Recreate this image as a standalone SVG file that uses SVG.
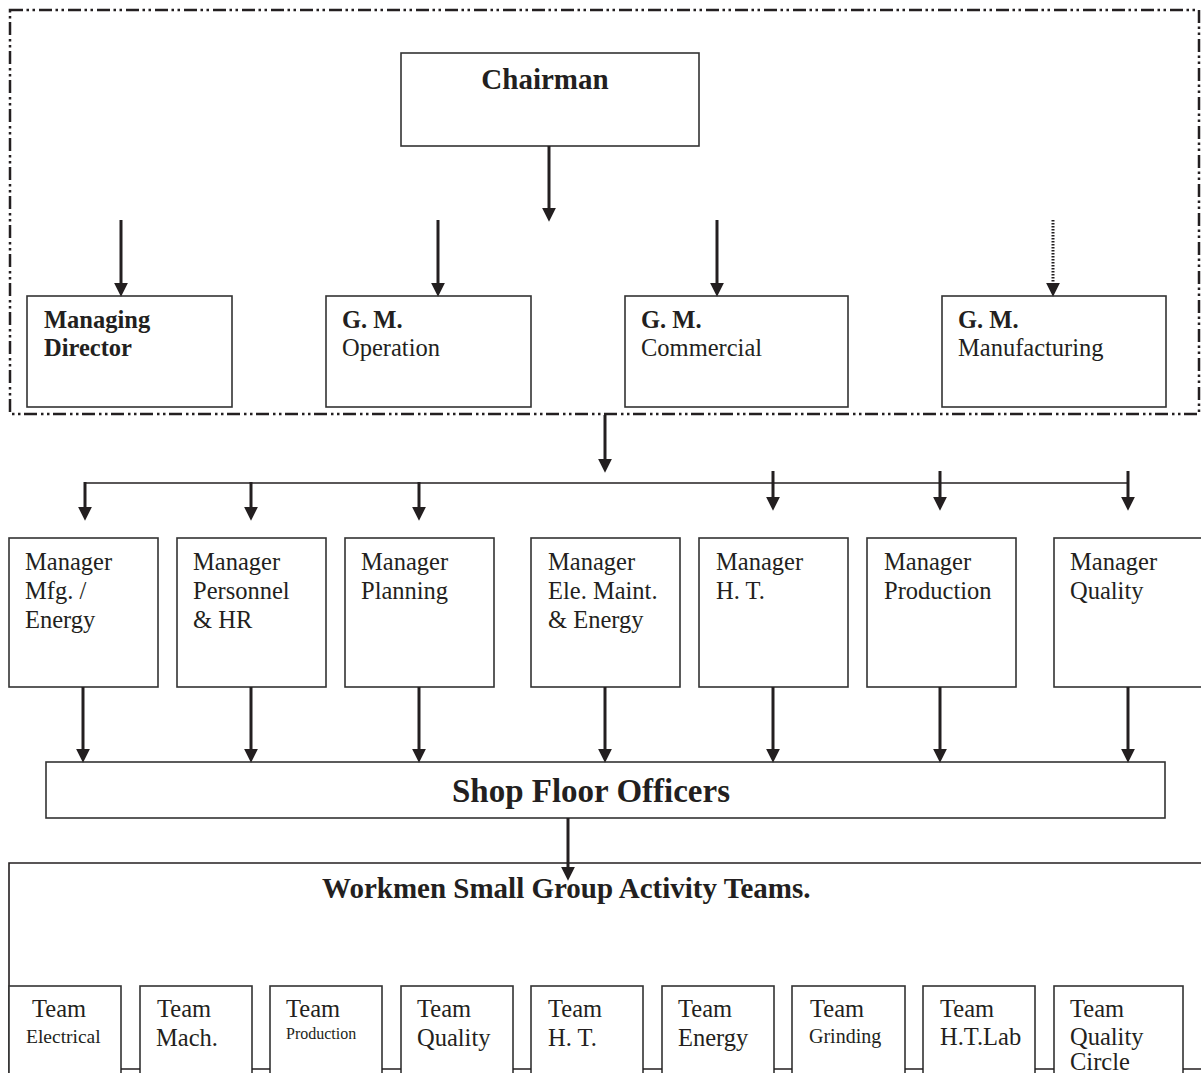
<svg xmlns="http://www.w3.org/2000/svg" width="1201" height="1073" viewBox="0 0 1201 1073">
<style>
.box{fill:#fff;stroke:#333;stroke-width:1.6}
.t{font-family:"Liberation Serif","Times New Roman",serif;fill:#231f20;font-size:24.5px}
.b{font-weight:bold}
.arr{stroke:#231f20;stroke-width:3;fill:none;marker-end:url(#ah)}
.dot{stroke:#231f20;stroke-width:3;fill:none;stroke-dasharray:1.5 1.5;marker-end:url(#ah)}
.thin{stroke:#231f20;stroke-width:1.6;fill:none}
.frame{fill:none;stroke:#231f20;stroke-width:2.5;stroke-dasharray:13 3.5 2.5 3.5 2.5 4}
</style>
<defs>
<marker id="ah" markerUnits="userSpaceOnUse" markerWidth="14" markerHeight="14" viewBox="0 0 13 13" refX="3" refY="6.5" orient="auto">
<path d="M0,0 L13,6.5 L0,13 z" fill="#231f20"/>
</marker>
</defs>
<rect width="1201" height="1073" fill="#fff"/>
<rect class="frame" x="10" y="10" width="1189" height="404"/>

<g id="chairman"><rect class="box" x="401" y="53" width="298" height="93"/><text class="t b" x="545" y="89" style="font-size:29px" text-anchor="middle">Chairman</text></g>
<g id="md"><rect class="box" x="27" y="296" width="205" height="111"/><text class="t b" x="44" y="328">Managing</text><text class="t b" x="44" y="356">Director</text></g>
<g id="gm-op"><rect class="box" x="326" y="296" width="205" height="111"/><text class="t b" x="342" y="328">G. M.</text><text class="t" x="342" y="356">Operation</text></g>
<g id="gm-com"><rect class="box" x="625" y="296" width="223" height="111"/><text class="t b" x="641" y="328">G. M.</text><text class="t" x="641" y="356">Commercial</text></g>
<g id="gm-mfg"><rect class="box" x="942" y="296" width="224" height="111"/><text class="t b" x="958" y="328">G. M.</text><text class="t" x="958" y="356">Manufacturing</text></g>

<g id="mgr-mfg"><rect class="box" x="9" y="538" width="149" height="149"/><text class="t" x="25" y="570">Manager</text><text class="t" x="25" y="599">Mfg. /</text><text class="t" x="25" y="628">Energy</text></g>
<g id="mgr-hr"><rect class="box" x="177" y="538" width="149" height="149"/><text class="t" x="193" y="570">Manager</text><text class="t" x="193" y="599">Personnel</text><text class="t" x="193" y="628">&amp; HR</text></g>
<g id="mgr-plan"><rect class="box" x="345" y="538" width="149" height="149"/><text class="t" x="361" y="570">Manager</text><text class="t" x="361" y="599">Planning</text></g>
<g id="mgr-ele"><rect class="box" x="531" y="538" width="149" height="149"/><text class="t" x="548" y="570">Manager</text><text class="t" x="548" y="599">Ele. Maint.</text><text class="t" x="548" y="628">&amp; Energy</text></g>
<g id="mgr-ht"><rect class="box" x="699" y="538" width="149" height="149"/><text class="t" x="716" y="570">Manager</text><text class="t" x="716" y="599">H. T.</text></g>
<g id="mgr-prod"><rect class="box" x="867" y="538" width="149" height="149"/><text class="t" x="884" y="570">Manager</text><text class="t" x="884" y="599">Production</text></g>
<g id="mgr-qual"><rect class="box" x="1054" y="538" width="160" height="149"/><text class="t" x="1070" y="570">Manager</text><text class="t" x="1070" y="599">Quality</text></g>

<g id="shopfloor"><rect class="box" x="46" y="762" width="1119" height="56"/><text class="t b" x="591" y="802" style="font-size:33px" text-anchor="middle">Shop Floor Officers</text></g>

<g id="workmen"><path class="thin" d="M9,1073 V863 H1201"/><text class="t b" x="322" y="898" style="font-size:29px">Workmen Small Group Activity Teams.</text></g>

<g id="team-ele"><rect class="box" x="9" y="986" width="112" height="100"/><text class="t" x="32" y="1017">Team</text><text class="t" x="26" y="1043" style="font-size:19.5px">Electrical</text></g>
<g id="team-mach"><rect class="box" x="140" y="986" width="112" height="100"/><text class="t" x="157" y="1017">Team</text><text class="t" x="156" y="1046">Mach.</text></g>
<g id="team-prod"><rect class="box" x="270" y="986" width="112" height="100"/><text class="t" x="286" y="1017">Team</text><text class="t" x="286" y="1039" style="font-size:16px">Production</text></g>
<g id="team-qual"><rect class="box" x="401" y="986" width="112" height="100"/><text class="t" x="417" y="1017">Team</text><text class="t" x="417" y="1046">Quality</text></g>
<g id="team-ht"><rect class="box" x="531" y="986" width="112" height="100"/><text class="t" x="548" y="1017">Team</text><text class="t" x="548" y="1046">H. T.</text></g>
<g id="team-energy"><rect class="box" x="662" y="986" width="112" height="100"/><text class="t" x="678" y="1017">Team</text><text class="t" x="678" y="1046">Energy</text></g>
<g id="team-grind"><rect class="box" x="792" y="986" width="113" height="100"/><text class="t" x="810" y="1017">Team</text><text class="t" x="809" y="1043" style="font-size:20px">Grinding</text></g>
<g id="team-htlab"><rect class="box" x="923" y="986" width="112" height="100"/><text class="t" x="940" y="1017">Team</text><text class="t" x="940" y="1045">H.T.Lab</text></g>
<g id="team-qc"><rect class="box" x="1054" y="986" width="129" height="100"/><text class="t" x="1070" y="1017">Team</text><text class="t" x="1070" y="1045">Quality</text><text class="t" x="1070" y="1070">Circle</text></g>

<g id="connectors">
<path class="arr" d="M549,146 V211"/>
<path class="arr" d="M121,220 V286"/>
<path class="arr" d="M438,220 V286"/>
<path class="arr" d="M717,220 V286"/>
<path class="dot" d="M1053,220 V286"/>
<path class="arr" d="M605,415 V462"/>
<path class="thin" d="M85,483 H1128"/>
<path class="arr" d="M85,482 V510"/>
<path class="arr" d="M251,482 V510"/>
<path class="arr" d="M419,482 V510"/>
<path class="arr" d="M773,471 V500"/>
<path class="arr" d="M940,471 V500"/>
<path class="arr" d="M1128,471 V500"/>
<path class="arr" d="M83,687 V752"/>
<path class="arr" d="M251,687 V752"/>
<path class="arr" d="M419,687 V752"/>
<path class="arr" d="M605,687 V752"/>
<path class="arr" d="M773,687 V752"/>
<path class="arr" d="M940,687 V752"/>
<path class="arr" d="M1128,687 V752"/>
<path class="arr" d="M568,818 V870"/>
<path class="thin" d="M121,1069 H140 M252,1069 H270 M382,1069 H401 M513,1069 H531 M643,1069 H662 M774,1069 H792 M905,1069 H923 M1035,1069 H1054 M1183,1069 H1201"/>
</g>
</svg>
